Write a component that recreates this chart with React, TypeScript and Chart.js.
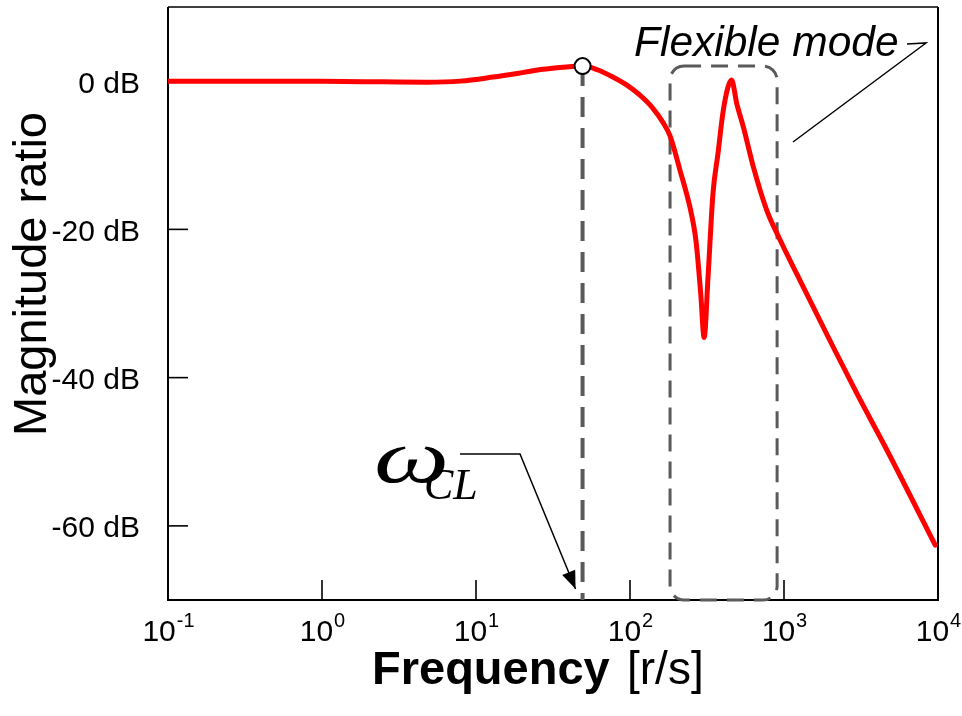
import React, { useEffect, useRef } from "react";
import { Chart, registerables } from "chart.js";

Chart.register(...registerables);

// ---- data ----
const freq = [
  0.1, 0.34, 1, 2.5, 4.8, 7.9, 12.9, 20, 27.2, 35, 42, 49.2, 62, 77.6, 95, 116,
  140, 164, 182, 211, 245, 264, 271, 288, 303, 321, 346, 373, 401, 433, 457,
  493, 545, 633, 772, 942, 1210, 2078, 3000, 4665, 9600,
];
const magDb = [
  0, 0, -0.03, -0.1, -0.15, 0, 0.55, 1.15, 1.6, 1.85, 1.98, 2.03, 1.5, 0.54,
  -0.5, -1.9, -3.6, -5.6, -7.4, -12.0, -17.0, -20.5, -22.4, -28.7, -34.6,
  -26.5, -15.1, -9.7, -4.3, -0.8, 0.14, -3.0, -6.2, -11.6, -17.4, -21.4, -26.0,
  -35.8, -42.3, -49.8, -62.6,
];
const xTickValues = [0.1, 1, 10, 100, 1000, 10000];
const xTickExponents = ["-1", "0", "1", "2", "3", "4"];
const yTickValues = [0, -20, -40, -60];
const yTickLabels = ["0 dB", "-20 dB", "-40 dB", "-60 dB"];
const omegaCL = 49.2;
const omegaCLdB = 2.03;
const flexBand = [182, 902];
const flexTopDb = 2.03;
const yMin = -70;
const yMax = 10;

const SANS = '"Liberation Sans", Arial, sans-serif';
const SERIF = '"Liberation Serif", "Times New Roman", serif';

const decorPlugin = {
  id: "decor",
  beforeDatasetsDraw(chart: any) {
    const { ctx, chartArea: a, scales } = chart;
    const x = scales.x;
    const y = scales.y;
    ctx.save();
    // frame
    ctx.strokeStyle = "#000";
    ctx.lineWidth = 1.5;
    ctx.beginPath();
    ctx.moveTo(a.left, a.top);
    ctx.lineTo(a.right, a.top);
    ctx.stroke();
    ctx.lineWidth = 2;
    ctx.beginPath();
    ctx.moveTo(a.right, a.top);
    ctx.lineTo(a.right, a.bottom);
    ctx.lineTo(a.left, a.bottom);
    ctx.lineTo(a.left, a.top);
    ctx.stroke();
    // ticks (inside)
    ctx.lineWidth = 1.6;
    for (const v of xTickValues) {
      const px = x.getPixelForValue(v);
      ctx.beginPath();
      ctx.moveTo(px, a.bottom);
      ctx.lineTo(px, a.bottom - 20);
      ctx.stroke();
    }
    for (const v of yTickValues) {
      const py = y.getPixelForValue(v);
      ctx.beginPath();
      ctx.moveTo(a.left, py);
      ctx.lineTo(a.left + 20, py);
      ctx.stroke();
    }
    // flexible mode box
    const l = x.getPixelForValue(flexBand[0]);
    const r = x.getPixelForValue(flexBand[1]);
    const t = y.getPixelForValue(flexTopDb);
    const b = y.getPixelForValue(yMin);
    ctx.setLineDash([17, 10]);
    ctx.lineWidth = 3;
    ctx.strokeStyle = "#5a5a5a";
    ctx.beginPath();
    (ctx as any).roundRect(l, t, r - l, b - t, 14);
    ctx.stroke();
    ctx.restore();
  },
  afterDraw(chart: any) {
    const { ctx, chartArea: a, scales } = chart;
    const x = scales.x;
    const y = scales.y;
    ctx.save();
    ctx.fillStyle = "#000";
    // y tick labels
    ctx.font = `30px ${SANS}`;
    ctx.textAlign = "right";
    ctx.textBaseline = "alphabetic";
    yTickValues.forEach((v, i) => {
      const py = y.getPixelForValue(v);
      ctx.fillText(yTickLabels[i], a.left - 28, py + 11.5);
    });
    // x tick labels 10^k
    ctx.textAlign = "left";
    xTickValues.forEach((v, i) => {
      const px = x.getPixelForValue(v);
      ctx.font = `30px ${SANS}`;
      const wMain = ctx.measureText("10").width;
      ctx.font = `20px ${SANS}`;
      const wSup = ctx.measureText(xTickExponents[i]).width;
      const start = px - (wMain + wSup) / 2;
      ctx.font = `30px ${SANS}`;
      ctx.fillText("10", start, a.bottom + 41);
      ctx.font = `20px ${SANS}`;
      ctx.fillText(xTickExponents[i], start + wMain + 1, a.bottom + 27);
    });
    // x title
    ctx.font = `bold 47px ${SANS}`;
    ctx.fillText("Frequency", 372, 684);
    ctx.font = `46px ${SANS}`;
    ctx.fillText("[r/s]", 627, 684);
    // y title
    ctx.save();
    ctx.translate(46, 274);
    ctx.rotate(-Math.PI / 2);
    ctx.textAlign = "center";
    ctx.font = `47px ${SANS}`;
    ctx.fillText("Magnitude ratio", 0, 0);
    ctx.restore();
    // Flexible mode annotation
    ctx.font = `italic 42.5px ${SANS}`;
    ctx.textAlign = "left";
    ctx.fillText("Flexible mode", 634, 56);
    ctx.strokeStyle = "#000";
    ctx.lineWidth = 1.5;
    ctx.beginPath();
    ctx.moveTo(907, 44);
    ctx.lineTo(926, 43);
    ctx.lineTo(793, 142);
    ctx.stroke();
    // omega_CL annotation
    ctx.save();
    ctx.translate(374, 482);
    ctx.scale(1.4, 1);
    ctx.font = `italic 76px ${SERIF}`;
    ctx.fillText("\u03c9", 0, 0);
    ctx.restore();
    ctx.font = `italic 44px ${SERIF}`;
    ctx.fillText("CL", 424, 499);
    const tipX = x.getPixelForValue(omegaCL) - 7;
    const tipY = a.bottom - 11;
    ctx.beginPath();
    ctx.moveTo(460, 454);
    ctx.lineTo(520, 454);
    ctx.lineTo(tipX, tipY);
    ctx.stroke();
    const ang = Math.atan2(tipY - 454, tipX - 520);
    const len = 18;
    const half = 7;
    ctx.beginPath();
    ctx.moveTo(tipX, tipY);
    ctx.lineTo(
      tipX - len * Math.cos(ang) + half * Math.sin(ang),
      tipY - len * Math.sin(ang) - half * Math.cos(ang)
    );
    ctx.lineTo(
      tipX - len * Math.cos(ang) - half * Math.sin(ang),
      tipY - len * Math.sin(ang) + half * Math.cos(ang)
    );
    ctx.closePath();
    ctx.fill();
    ctx.restore();
  },
};

export default function App() {
  const ref = useRef<HTMLCanvasElement | null>(null);
  useEffect(() => {
    document.body.style.margin = "0";
    if (!ref.current) return;
    const curve = freq.map((f, i) => ({ x: f, y: magDb[i] }));
    const chart = new Chart(ref.current, {
      type: "line",
      data: {
        datasets: [
          {
            data: [{ x: omegaCL, y: omegaCLdB }],
            showLine: false,
            pointRadius: 8,
            pointBackgroundColor: "#fff",
            pointBorderColor: "#000",
            pointBorderWidth: 2,
            order: 0,
          },
          {
            data: curve,
            borderColor: "#ff0000",
            borderWidth: 5,
            pointRadius: 0,
            cubicInterpolationMode: "monotone",
            borderCapStyle: "round",
            borderJoinStyle: "round",
            order: 1,
          },
          {
            data: [
              { x: omegaCL, y: omegaCLdB },
              { x: omegaCL, y: yMin },
            ],
            borderColor: "#5a5a5a",
            borderWidth: 4,
            borderDash: [20, 11],
            pointRadius: 0,
            order: 2,
          },
        ] as any,
      },
      options: {
        animation: false,
        responsive: false,
        devicePixelRatio: 1,
        layout: {
          autoPadding: false,
          padding: { left: 168, right: 24, top: 7, bottom: 116 },
        },
        plugins: { legend: { display: false }, tooltip: { enabled: false } },
        scales: {
          x: { type: "logarithmic", min: 0.1, max: 10000, display: false },
          y: { type: "linear", min: yMin, max: yMax, display: false },
        },
      },
      plugins: [decorPlugin],
    });
    return () => chart.destroy();
  }, []);
  return (
    <div style={{ position: "absolute", left: 0, top: 0, width: 962, height: 716 }}>
      <canvas ref={ref} width={962} height={716} style={{ display: "block" }} />
    </div>
  );
}
